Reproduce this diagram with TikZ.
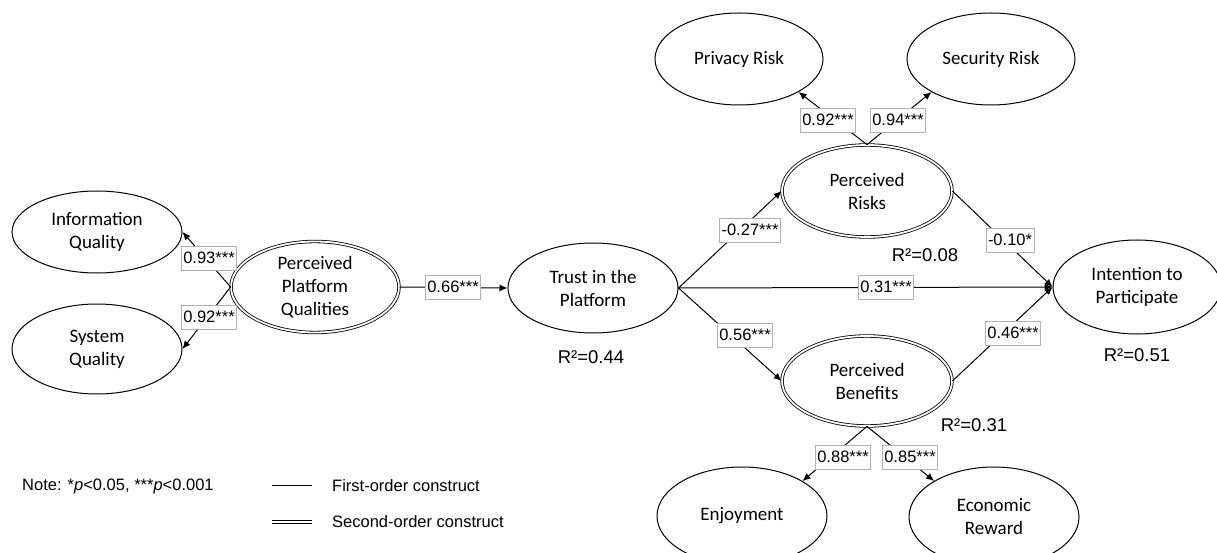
\documentclass[tikz,border=0pt]{standalone}
\usepackage{fontspec}
\setmainfont{Carlito}
\newfontfamily\arialf{Liberation Sans}
\usetikzlibrary{shapes.geometric,arrows.meta}
\begin{document}
\begin{tikzpicture}[x=1pt,y=-1pt,
  fo/.style={ellipse,draw,line width=1pt,inner sep=0pt,align=center,
    font=\fontsize{19}{23}\selectfont},
  so/.style={fo,double,double distance=1.8pt,line width=0.8pt},
  arr/.style={line width=1pt,-{Latex[length=8pt,width=7pt]}},
  plain/.style={line width=1pt},
  lbl/.style={draw=black!30,fill=white,line width=0.7pt,inner xsep=2pt,inner ysep=0pt,
    minimum height=24pt,font=\arialf\fontsize{16.5}{18}\selectfont},
  rsq/.style={inner sep=0pt,font=\arialf\fontsize{18.5}{20}\selectfont},
  leg/.style={inner sep=0pt,anchor=west,font=\arialf\fontsize{16.5}{18}\selectfont},
]
\useasboundingbox (0,0) rectangle (1217,553);
% constructs
\node[fo,minimum width=170pt,minimum height=82pt] (iq) at (97,232) {Information\\Quality};
\node[fo,minimum width=170pt,minimum height=90pt] (sq) at (97,349) {System\\Quality};
\node[so,minimum width=168pt,minimum height=91pt] (ppq) at (315,287) {Perceived\\Platform\\Qualities};
\node[fo,minimum width=170pt,minimum height=90pt] (tr) at (593,288) {Trust in the\\Platform};
\node[fo,minimum width=168pt,minimum height=92pt] (pr) at (739,59) {Privacy Risk};
\node[fo,minimum width=168pt,minimum height=92pt] (sr) at (991,59) {Security Risk};
\node[so,minimum width=170pt,minimum height=92pt] (rk) at (867,191) {Perceived\\Risks};
\node[so,minimum width=170pt,minimum height=90pt] (bn) at (867,381) {Perceived\\Benefits};
\node[fo,minimum width=168pt,minimum height=94pt] (in) at (1137,287) {Intention to\\Participate};
\node[fo,minimum width=170pt,minimum height=98pt] (en) at (742,516) {Enjoyment};
\node[fo,minimum width=170pt,minimum height=100pt] (er) at (994,517) {Economic\\Reward};
% R squared
\node[rsq] (r1) at (591,357) {R²=0.44};
\node[rsq] (r2) at (925,255) {R²=0.08};
\node[rsq] (r3) at (974,425) {R²=0.31};
\node[rsq] (r4) at (1137,355) {R²=0.51};
% connectors
\draw[arr] (ppq.west) -- (iq.east) node[lbl] at (209,258) {0.93***};
\draw[arr] (ppq.west) -- (sq.east) node[lbl] at (209,317) {0.92***};
\draw[arr] (ppq.east) -- (tr.west) node[lbl] at (453,287) {0.66***};
\draw[arr] (tr.east) -- (rk.west) node[lbl] at (750,230) {-0.27***};
\draw[arr] (tr.east) -- (bn.west) node[lbl] at (745,335) {0.56***};
\draw[arr] (tr.east) -- (in.west) node[lbl] at (886,287) {0.31***};
\draw[arr] (rk.east) -- (in.west) node[lbl] at (1010,240) {-0.10*};
\draw[arr] (bn.east) -- (in.west) node[lbl] at (1013,333) {0.46***};
\draw[arr] (rk.north) -- (pr.-29) node[lbl] at (828,120) {0.92***};
\draw[arr] (rk.north) -- (sr.209) node[lbl] at (898,120) {0.94***};
\draw[arr] (bn.south) -- (en.30) node[lbl] at (843,457) {0.88***};
\draw[arr] (bn.south) -- (er.149) node[lbl] at (910,457) {0.85***};
% legend
\node[leg] (note) at (22,486) {Note: *\textit{p}<0.05, ***\textit{p}<0.001};
\coordinate (l1a) at (272,485);
\coordinate (l1b) at (312,485);
\coordinate (l2a) at (272,522);
\coordinate (l2b) at (312,522);
\draw[plain] (l1a) -- (l1b);
\draw[line width=0.8pt,double,double distance=1.8pt] (l2a) -- (l2b);
\node[leg] (t1) at (332,486) {First-order construct};
\node[leg] (t2) at (332,522) {Second-order construct};
\end{tikzpicture}
\end{document}
